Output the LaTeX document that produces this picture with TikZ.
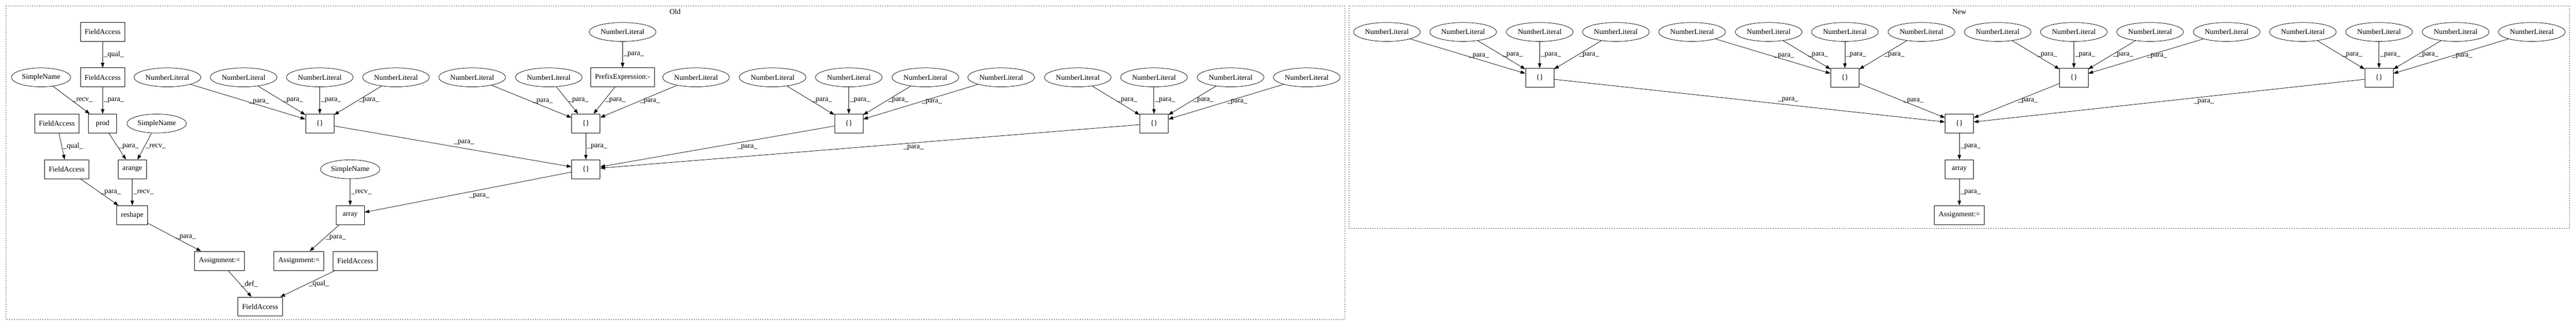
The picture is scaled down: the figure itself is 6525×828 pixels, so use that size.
\documentclass[tikz,border=0pt]{standalone}
\usepackage{fontspec}
\setmainfont{Liberation Serif}
\usetikzlibrary{arrows.meta,shapes.geometric}

\tikzset{
  box/.style={draw,rectangle,minimum width=54pt,minimum height=36pt,inner xsep=8pt,inner ysep=0pt,line width=0.75pt},
  oval/.style={draw,ellipse,minimum height=36pt,inner xsep=3.3pt,inner ysep=0pt,line width=0.75pt},
  lbl/.style={inner sep=2pt},
  edge/.style={->,line width=0.75pt},
  cluster/.style={line width=0.75pt,dash pattern=on 0.75pt off 3.75pt}
}

\begin{document}
\begin{tikzpicture}[line cap=round,line join=round,>={Triangle[length=9pt,width=6.5pt]},x=0.75pt,y=-0.75pt,font=\fontsize{14}{17}\selectfont]
\useasboundingbox (0,0) rectangle (6525,828);
% clusters
\draw [cluster] (15,15) rectangle (3406,810);
\node (old) at (1710,30) {Old};
\draw [cluster] (3417,15) rectangle (6509,579);
\node (new) at (4963,30) {New};
% Old
\node [box] (fa1) at (260,81) {FieldAccess};
\node [box] (fa2) at (260,196) {FieldAccess};
\node [oval] (sn1) at (104,196) {SimpleName};
\node [oval] (nl1) at (424,196) {NumberLiteral};
\node [oval] (nl2) at (617,196) {NumberLiteral};
\node [oval] (nl3) at (810,196) {NumberLiteral};
\node [oval] (nl4) at (1003,196) {NumberLiteral};
\node [oval] (nl5) at (1196,196) {NumberLiteral};
\node [oval] (nl6) at (1390,196) {NumberLiteral};
\node [oval] (nl0) at (1577,81) {NumberLiteral};
\node [box] (pre) at (1577,196) {PrefixExpression:-};
\node [oval] (nl7) at (1763,196) {NumberLiteral};
\node [oval] (nl8) at (1957,196) {NumberLiteral};
\node [oval] (nl9) at (2150,196) {NumberLiteral};
\node [oval] (nl10) at (2344,196) {NumberLiteral};
\node [oval] (nl11) at (2536,196) {NumberLiteral};
\node [oval] (nl12) at (2730,196) {NumberLiteral};
\node [oval] (nl13) at (2923,196) {NumberLiteral};
\node [oval] (nl14) at (3117,196) {NumberLiteral};
\node [oval] (nl15) at (3310,196) {NumberLiteral};
\node [box] (fa3) at (144,313) {FieldAccess};
\node [box] (prod) at (260,313) {prod};
\node [oval] (sn2) at (397,313) {SimpleName};
\node [box] (b1) at (810,313) {\{\}};
\node [box] (b3) at (1484,313) {\{\}};
\node [box] (b4) at (2150,313) {\{\}};
\node [box] (b5) at (2923,313) {\{\}};
\node [box] (fa4) at (169,429) {FieldAccess};
\node [box] (arange) at (335,429) {arange};
\node [oval] (sn3) at (887,429) {SimpleName};
\node [box] (b2) at (1484,429) {\{\}};
\node [box] (reshape) at (335,545) {reshape};
\node [box] (array) at (887,545) {array};
\node [box] (asg1) at (556,661) {Assignment:=};
\node [box] (asg2) at (757,661) {Assignment:=};
\node [box] (fa5) at (900,661) {FieldAccess};
\node [box] (fa6) at (659,777) {FieldAccess};
\draw [edge] (fa1) -- node[lbl,right] {\_qual\_} (fa2);
\draw [edge] (sn1) -- node[lbl,right] {\_recv\_} (prod);
\draw [edge] (fa2) -- node[lbl,right] {\_para\_} (prod);
\draw [edge] (fa3) -- node[lbl,right] {\_qual\_} (fa4);
\draw [edge] (prod) -- node[lbl,right] {\_para\_} (arange);
\draw [edge] (sn2) -- node[lbl,right] {\_recv\_} (arange);
\draw [edge] (fa4) -- node[lbl,right] {\_para\_} (reshape);
\draw [edge] (arange) -- node[lbl,right] {\_recv\_} (reshape);
\draw [edge] (reshape) -- node[lbl,right] {\_para\_} (asg1);
\draw [edge] (asg1) -- node[lbl,right] {\_def\_} (fa6);
\draw [edge] (fa5) -- node[lbl,right] {\_qual\_} (fa6);
\draw [edge] (sn3) -- node[lbl,right] {\_recv\_} (array);
\draw [edge] (array) -- node[lbl,right] {\_para\_} (asg2);
\draw [edge] (nl1) -- node[lbl,right] {\_para\_} (b1);
\draw [edge] (nl2) -- node[lbl,right] {\_para\_} (b1);
\draw [edge] (nl3) -- node[lbl,right] {\_para\_} (b1);
\draw [edge] (nl4) -- node[lbl,right] {\_para\_} (b1);
\draw [edge] (nl0) -- node[lbl,right] {\_para\_} (pre);
\draw [edge] (nl5) -- node[lbl,right] {\_para\_} (b3);
\draw [edge] (nl6) -- node[lbl,right] {\_para\_} (b3);
\draw [edge] (pre) -- node[lbl,right] {\_para\_} (b3);
\draw [edge] (nl7) -- node[lbl,right] {\_para\_} (b3);
\draw [edge] (nl8) -- node[lbl,right] {\_para\_} (b4);
\draw [edge] (nl9) -- node[lbl,right] {\_para\_} (b4);
\draw [edge] (nl10) -- node[lbl,right] {\_para\_} (b4);
\draw [edge] (nl11) -- node[lbl,right] {\_para\_} (b4);
\draw [edge] (nl12) -- node[lbl,right] {\_para\_} (b5);
\draw [edge] (nl13) -- node[lbl,right] {\_para\_} (b5);
\draw [edge] (nl14) -- node[lbl,right] {\_para\_} (b5);
\draw [edge] (nl15) -- node[lbl,right] {\_para\_} (b5);
\draw [edge] (b1) -- node[lbl,above right] {\_para\_} (b2);
\draw [edge] (b3) -- node[lbl,right] {\_para\_} (b2);
\draw [edge] (b4) -- node[lbl,below right,pos=0.42] {\_para\_} (b2);
\draw [edge] (b5) -- node[lbl,below right,pos=0.44] {\_para\_} (b2);
\draw [edge] (b2) -- node[lbl,below right] {\_para\_} (array);
% New
\node [oval] (m1) at (3513,81) {NumberLiteral};
\node [oval] (m2) at (3706,81) {NumberLiteral};
\node [oval] (m3) at (3900,81) {NumberLiteral};
\node [oval] (m4) at (4093,81) {NumberLiteral};
\node [oval] (m5) at (4286,81) {NumberLiteral};
\node [oval] (m6) at (4480,81) {NumberLiteral};
\node [oval] (m7) at (4673,81) {NumberLiteral};
\node [oval] (m8) at (4867,81) {NumberLiteral};
\node [oval] (m9) at (5060,81) {NumberLiteral};
\node [oval] (m10) at (5253,81) {NumberLiteral};
\node [oval] (m11) at (5446,81) {NumberLiteral};
\node [oval] (m12) at (5640,81) {NumberLiteral};
\node [oval] (m13) at (5833,81) {NumberLiteral};
\node [oval] (m14) at (6026,81) {NumberLiteral};
\node [oval] (m15) at (6220,81) {NumberLiteral};
\node [oval] (m16) at (6413,81) {NumberLiteral};
\node [box] (c1) at (3900,197) {\{\}};
\node [box] (c2) at (4673,197) {\{\}};
\node [box] (c3) at (5253,197) {\{\}};
\node [box] (c4) at (6026,197) {\{\}};
\node [box] (cc) at (4963,313) {\{\}};
\node [box] (narray) at (4963,429) {array};
\node [box] (nasg) at (4963,545) {Assignment:=};
\draw [edge] (m1) -- node[lbl,right] {\_para\_} (c1);
\draw [edge] (m2) -- node[lbl,right] {\_para\_} (c1);
\draw [edge] (m3) -- node[lbl,right] {\_para\_} (c1);
\draw [edge] (m4) -- node[lbl,right] {\_para\_} (c1);
\draw [edge] (m5) -- node[lbl,right] {\_para\_} (c2);
\draw [edge] (m6) -- node[lbl,right] {\_para\_} (c2);
\draw [edge] (m7) -- node[lbl,right] {\_para\_} (c2);
\draw [edge] (m8) -- node[lbl,right] {\_para\_} (c2);
\draw [edge] (m9) -- node[lbl,right] {\_para\_} (c3);
\draw [edge] (m10) -- node[lbl,right] {\_para\_} (c3);
\draw [edge] (m11) -- node[lbl,right] {\_para\_} (c3);
\draw [edge] (m12) -- node[lbl,right] {\_para\_} (c3);
\draw [edge] (m13) -- node[lbl,right] {\_para\_} (c4);
\draw [edge] (m14) -- node[lbl,right] {\_para\_} (c4);
\draw [edge] (m15) -- node[lbl,right] {\_para\_} (c4);
\draw [edge] (m16) -- node[lbl,right] {\_para\_} (c4);
\draw [edge] (c1) -- node[lbl,above right,pos=0.57] {\_para\_} (cc);
\draw [edge] (c2) -- node[lbl,right] {\_para\_} (cc);
\draw [edge] (c3) -- node[lbl,right] {\_para\_} (cc);
\draw [edge] (c4) -- node[lbl,below right,pos=0.44] {\_para\_} (cc);
\draw [edge] (cc) -- node[lbl,right] {\_para\_} (narray);
\draw [edge] (narray) -- node[lbl,right] {\_para\_} (nasg);
\end{tikzpicture}
\end{document}
